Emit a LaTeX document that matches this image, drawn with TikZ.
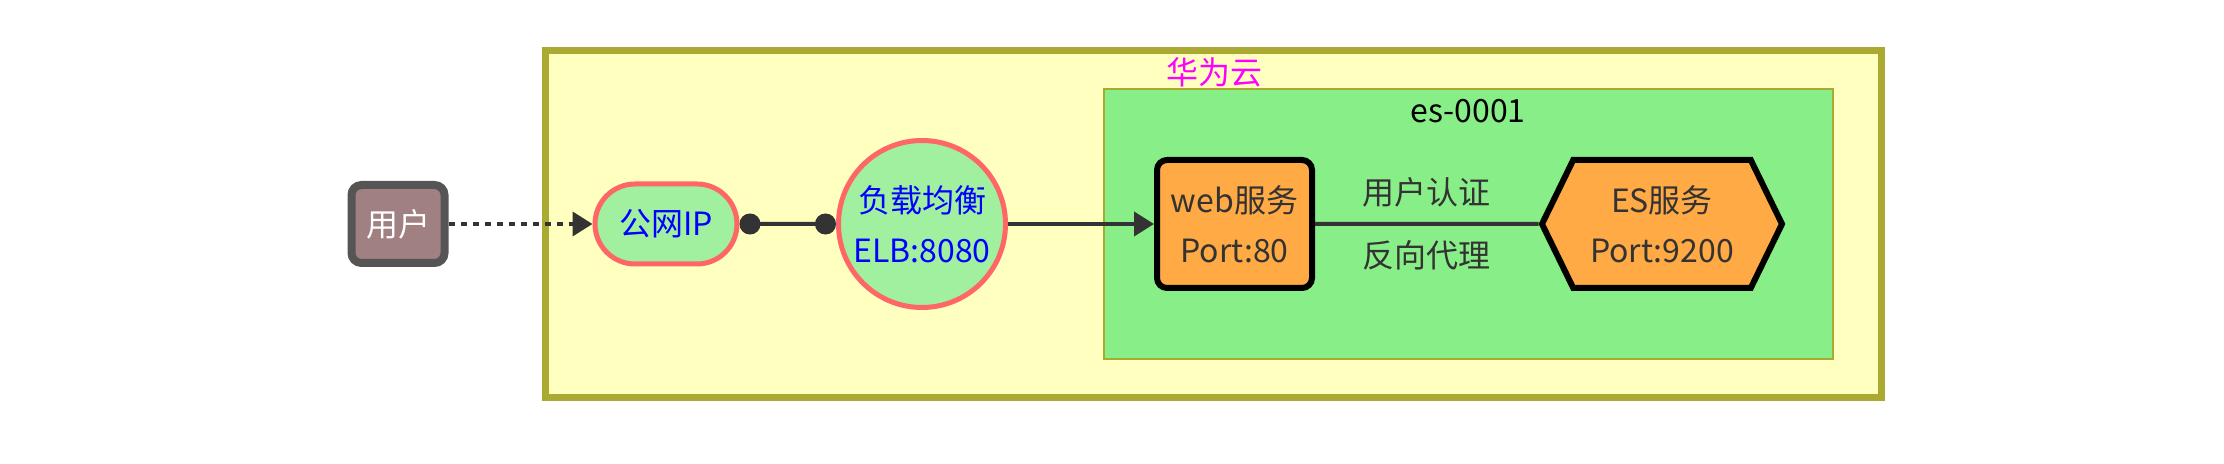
\documentclass[tikz,border=0pt]{standalone}
\usepackage{fontspec}
\setmainfont{Noto Sans CJK SC}
\usepackage{tikz}
\usetikzlibrary{arrows.meta,positioning,shapes,shapes.misc,shapes.symbols}
\definecolor{cloudfill}{HTML}{FFFFC0}
\definecolor{cloudline}{HTML}{AAAA33}
\definecolor{cloudtext}{HTML}{FF00FF}
\definecolor{hostfill}{HTML}{88EE88}
\definecolor{userfill}{HTML}{A08080}
\definecolor{userline}{HTML}{555555}
\definecolor{netfill}{HTML}{A0F0A0}
\definecolor{netline}{HTML}{FF6666}
\definecolor{nettext}{HTML}{0000FF}
\definecolor{svcfill}{HTML}{FFAA44}
\definecolor{wire}{HTML}{333333}
\tikzset{
  >={Triangle[length=10pt,width=12pt]},
  every node/.style={font=\fontsize{16pt}{25pt}\selectfont, align=center},
  userbox/.style={rectangle, rounded corners=5pt, fill=userfill, draw=userline, line width=4pt,
                  text=white, minimum width=46.5pt, minimum height=39pt, inner sep=0pt},
  ipnode/.style={rounded rectangle, fill=netfill, draw=netline, line width=2.5pt, text=nettext,
                 minimum width=71pt, minimum height=40pt, inner sep=0pt},
  elbnode/.style={circle, fill=netfill, draw=netline, line width=2.5pt, text=nettext,
                  minimum size=83.5pt, inner sep=0pt},
  webnode/.style={rectangle, rounded corners=5pt, fill=svcfill, draw=black, line width=3pt,
                  text=wire, minimum width=77.5pt, minimum height=64pt, inner sep=0pt},
  esnode/.style={signal, signal to=west and east, signal pointer angle=128, fill=svcfill,
                 draw=black, line width=3pt, text=wire, minimum width=120pt, minimum height=64pt,
                 inner sep=0pt},
  line/.style={draw=wire, line width=2pt},
  cloud/.style={fill=cloudfill, draw=cloudline, line width=3.5pt},
  host/.style={fill=hostfill, draw=cloudline, line width=1pt}
}

\begin{document}
\begin{tikzpicture}[x=0.5pt,y=-0.5pt]
    \useasboundingbox (0,0) rectangle (2224,464);
    % Draw groups
    \draw [cloud] (545,50.5) rectangle (1881,398);
    \node (cloudlabel) at (1214,72) [text=cloudtext] {华为云};
    \draw [host] (1104,89) rectangle (1833,359);
    \node (hostlabel) at (1468,111) [text=black] {es-0001};
    % Draw nodes
    \node (user) at (398,224) [userbox] {用户};
    \node (ip) at (666,224) [ipnode] {公网IP};
    \node (elb) at (922,224) [elbnode] {负载均衡\\ELB:8080};
    \node (web) at (1234.5,224) [webnode] {web服务\\Port:80};
    \node (es) at (1662,224) [esnode] {ES服务\\Port:9200};
    % Draw connectors
    \draw [line,->,dash pattern=on 3pt off 3pt] (user) -- (ip);
    \draw [line,{Circle[length=10.5pt]}-{Circle[length=10.5pt]}] (ip) -- (elb);
    \draw [line,->] (elb) -- (web);
    \draw [line] (web) -- (es)
          node [midway, above=4pt, text=wire] {用户认证}
          node [midway, below=4pt, text=wire] {反向代理};
\end{tikzpicture}
\end{document}
